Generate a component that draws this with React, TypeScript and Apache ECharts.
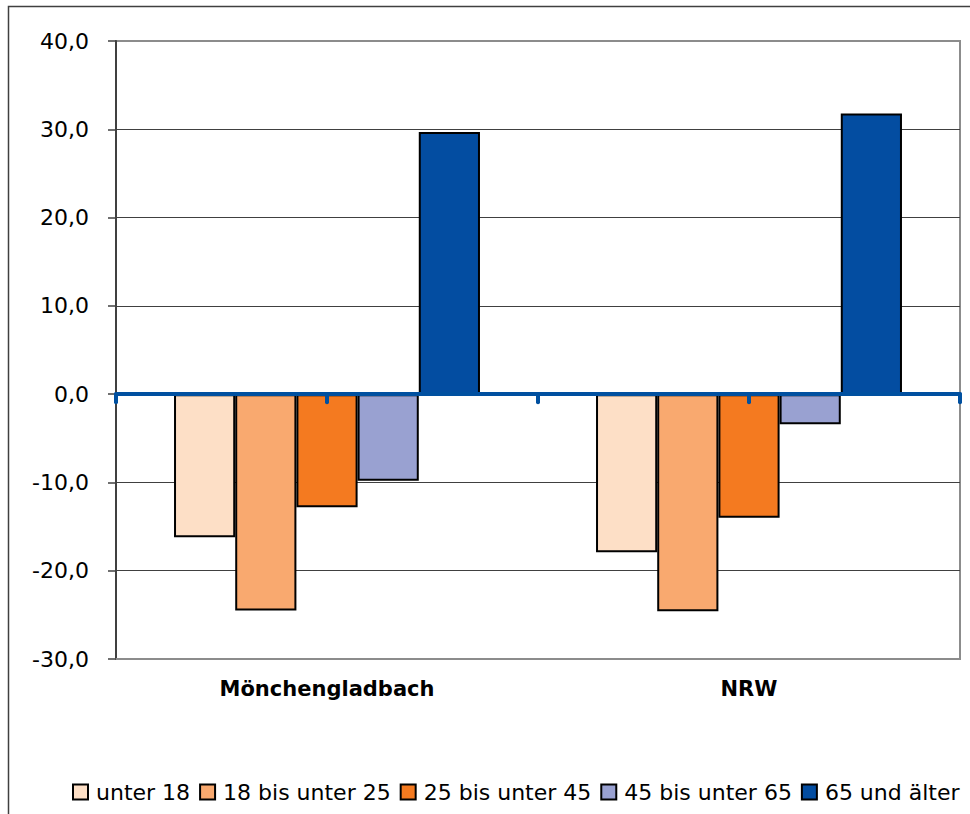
import React, { useEffect, useRef } from "react";
import * as echarts from "echarts";

const categories = ["Mönchengladbach", "NRW"];
const seriesNames = ["unter 18", "18 bis unter 25", "25 bis unter 45", "45 bis unter 65", "65 und älter"];
const unter18 = [-16.2, -17.9];
const bis25 = [-24.5, -24.6];
const bis45 = [-12.8, -14.0];
const bis65 = [-9.8, -3.4];
const ab65 = [29.7, 31.8];
const seriesValues = [unter18, bis25, bis45, bis65, ab65];
const colors = ["#FDDFC6", "#F9A96F", "#F47A20", "#99A1D1", "#034DA1"];
const yTicks = { min: -30, max: 40, interval: 10 };

export default function App() {
  const ref = useRef<HTMLDivElement>(null);
  useEffect(() => {
    if (!ref.current) return;
    const chart = echarts.init(ref.current, null, { renderer: "svg" });
    const font = "DejaVu Sans";
    chart.setOption({
      animation: false,
      backgroundColor: "#ffffff",
      textStyle: { fontFamily: font },
      graphic: [
        {
          type: "rect",
          shape: { x: 8.5, y: 6.5, width: 1200, height: 1200 },
          style: { fill: "none", stroke: "#404040", lineWidth: 1.5 },
          silent: true,
        },
      ],
      grid: {
        left: 116,
        top: 41,
        right: 10,
        bottom: 155,
        show: true,
        borderColor: "#8c8c8c",
        borderWidth: 2,
        backgroundColor: "transparent",
      },
      legend: {
        left: 72,
        top: 780,
        width: 1000,
        padding: 0,
        itemWidth: 15,
        itemHeight: 15,
        itemGap: 9,
        icon: "rect",
        textStyle: { fontFamily: font, fontSize: 22, color: "#000", padding: [0, 0, 0, 3], lineHeight: 24 },
        itemStyle: { borderColor: "#000", borderWidth: 2 },
        data: seriesNames,
      },
      xAxis: [
        {
          type: "category",
          data: categories,
          position: "bottom",
          axisLine: { onZero: false, lineStyle: { color: "#8c8c8c", width: 2 } },
          axisTick: { show: false },
          axisLabel: {
            margin: 19,
            fontFamily: font,
            fontSize: 21,
            fontWeight: "bold",
            color: "#000",
          },
          splitLine: { show: false },
        },
        {
          type: "value",
          min: 0,
          max: 4,
          interval: 1,
          position: "bottom",
          z: 10,
          axisLine: { onZero: true, lineStyle: { color: "#0050A0", width: 4 } },
          axisTick: { show: true, length: 8, lineStyle: { color: "#0050A0", width: 4, cap: "round" } },
          axisLabel: { show: false },
          splitLine: { show: false },
        },
      ],
      yAxis: {
        type: "value",
        min: yTicks.min,
        max: yTicks.max,
        interval: yTicks.interval,
        axisLine: { show: true, lineStyle: { color: "#404040", width: 2 } },
        axisTick: { show: true, length: 8, lineStyle: { color: "#404040", width: 1.5 } },
        axisLabel: {
          margin: 27,
          fontFamily: font,
          fontSize: 22,
          color: "#000",
          formatter: (v: number) => v.toFixed(1).replace(".", ","),
        },
        splitLine: {
          show: true,
          showMinLine: false,
          showMaxLine: false,
          lineStyle: { color: "#404040", width: 1 },
        },
      },
      series: seriesNames.map((name, i) => ({
        name,
        type: "bar",
        xAxisIndex: 0,
        data: seriesValues[i],
        barGap: "0%",
        barCategoryGap: "27.5%",
        itemStyle: { color: colors[i], borderColor: "#000", borderWidth: 2 },
      })),
    });
    return () => chart.dispose();
  }, []);
  return (
    <div
      ref={ref}
      style={{ position: "absolute", left: 0, top: 0, width: 970, height: 814 }}
    />
  );
}
